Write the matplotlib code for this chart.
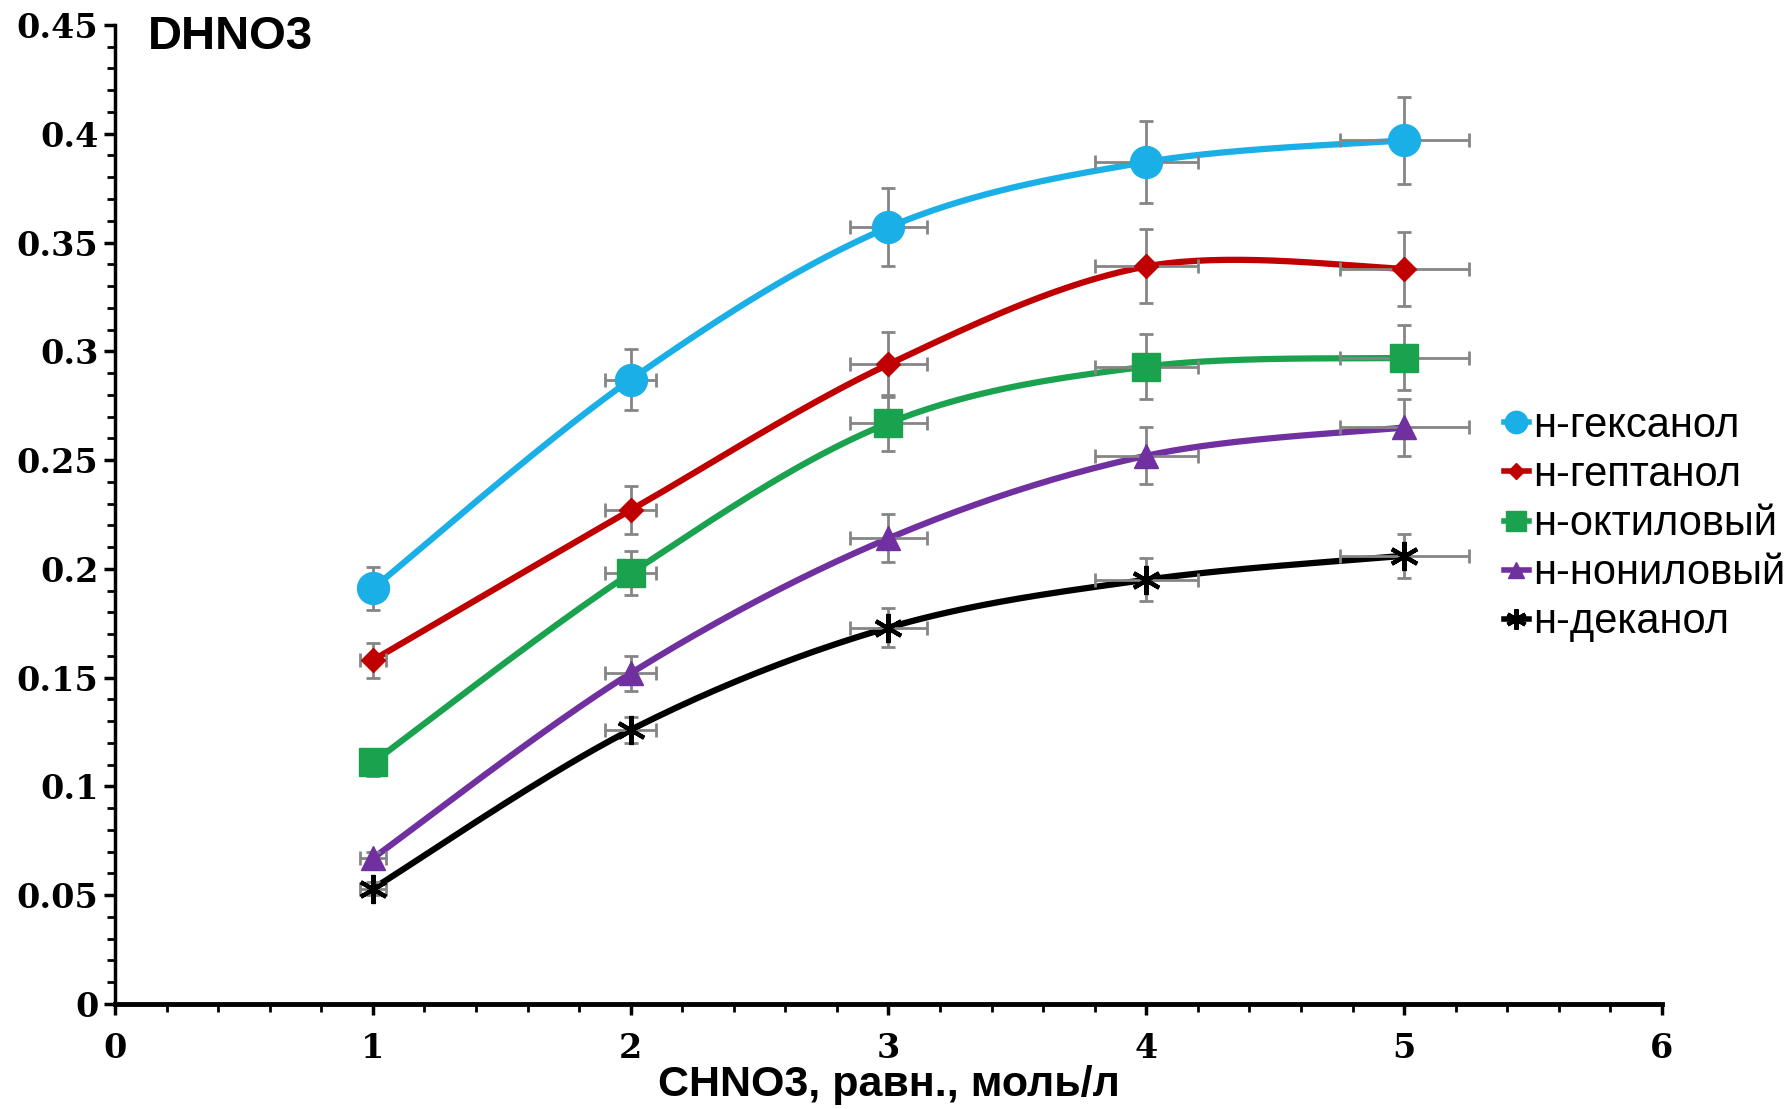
import numpy as np
import matplotlib
matplotlib.use('Agg')
import matplotlib.pyplot as plt
from matplotlib.ticker import MultipleLocator

# данные
x = [1, 2, 3, 4, 5]
hexanol = [0.191, 0.287, 0.357, 0.387, 0.397]
heptanol = [0.158, 0.227, 0.294, 0.339, 0.338]
octyl = [0.111, 0.198, 0.267, 0.293, 0.297]
nonyl = [0.067, 0.152, 0.214, 0.252, 0.265]
decanol = [0.053, 0.126, 0.173, 0.195, 0.206]
xerr = [0.05, 0.1, 0.15, 0.2, 0.25]
yerr_hexanol = [0.010, 0.014, 0.018, 0.019, 0.020]
yerr_heptanol = [0.008, 0.011, 0.015, 0.017, 0.017]
yerr_octyl = [0.006, 0.010, 0.013, 0.015, 0.015]
yerr_nonyl = [0.003, 0.008, 0.011, 0.013, 0.013]
yerr_decanol = [0.003, 0.006, 0.009, 0.010, 0.010]
labels = ['н-гексанол', 'н-гептанол', 'н-октиловый', 'н-нониловый', 'н-деканол']
yticks = [0, 0.05, 0.1, 0.15, 0.2, 0.25, 0.3, 0.35, 0.4, 0.45]
ytick_labels = ['0', '0.05', '0.1', '0.15', '0.2', '0.25', '0.3', '0.35', '0.4', '0.45']

series = [hexanol, heptanol, octyl, nonyl, decanol]
yerrs = [yerr_hexanol, yerr_heptanol, yerr_octyl, yerr_nonyl, yerr_decanol]
colors = ['#1AAFE6', '#C00000', '#1AA24F', '#7030A0', '#000000']
markers = ['o', 'D', 's', '^', (6, 2, 0)]
msizes = [23, 12, 20, 17, 21]


def smooth(xs, ys, n=40, sx=1/6, sy=1/0.45):
    # сглаживание как в Excel (Catmull-Rom)
    px = np.array(xs) * sx
    py = np.array(ys) * sy
    P = np.column_stack([px, py])
    P = np.vstack([P[0], P, P[-1]])
    out = []
    for i in range(1, len(P) - 2):
        p0, p1, p2, p3 = P[i - 1], P[i], P[i + 1], P[i + 2]
        t = np.linspace(0, 1, n)[:, None]
        c1 = p1 + (p2 - p0) / 6
        c2 = p2 - (p3 - p1) / 6
        b = (1 - t) ** 3 * p1 + 3 * (1 - t) ** 2 * t * c1 + 3 * (1 - t) * t ** 2 * c2 + t ** 3 * p2
        out.append(b)
    out = np.vstack(out)
    return out[:, 0] / sx, out[:, 1] / sy


fig = plt.figure(figsize=(17.87, 11.09), dpi=100)
ax = fig.add_axes([0.0644, 0.0947, 0.8656, 0.8828])

for ys, ye, c, m, ms, lab in zip(series, yerrs, colors, markers, msizes, labels):
    sx_, sy_ = smooth(x, ys)
    ax.plot(sx_, sy_, color=c, lw=4.5, zorder=2, solid_capstyle='round')
    ax.errorbar(x, ys, xerr=xerr, yerr=ye, fmt='none', ecolor='#858585',
                elinewidth=2, capsize=5, capthick=2, zorder=3)
    mew = 3 if m == (6, 2, 0) else 1
    ax.plot(x, ys, linestyle='none', marker=m, markersize=ms, color=c,
            markeredgecolor=c, markeredgewidth=mew, zorder=4)
    ax.plot([], [], color=c, lw=4, marker=m, markersize=ms * 0.7,
            markeredgewidth=mew, label=lab)

ax.set_xlim(0, 6)
ax.set_ylim(0, 0.45)
ax.set_yticks(yticks)
ax.set_yticklabels(ytick_labels)
ax.xaxis.set_minor_locator(MultipleLocator(0.2))
ax.yaxis.set_minor_locator(MultipleLocator(0.01))
ax.spines['top'].set_visible(False)
ax.spines['right'].set_visible(False)
ax.spines['left'].set_linewidth(2.5)
ax.spines['bottom'].set_linewidth(3.5)
ax.tick_params(which='major', direction='out', length=8, width=2.5)
ax.tick_params(which='minor', direction='out', length=6, width=2)
for t in ax.get_xticklabels() + ax.get_yticklabels():
    t.set_fontfamily('DejaVu Serif')
    t.set_fontweight('bold')
    t.set_fontsize(24)
ax.tick_params(axis='x', pad=12)
ax.tick_params(axis='y', pad=4)

ax.set_xlabel('CHNO3, равн., моль/л', fontsize=31, fontweight='bold',
              family='Liberation Sans', labelpad=0)
ax.text(0.021, 1.01, 'DHNO3', transform=ax.transAxes, fontsize=34,
        fontweight='bold', family='Liberation Sans', va='top')

ax.legend(loc='upper left', bbox_to_anchor=(0.887, 0.628), frameon=False,
          prop={'family': 'Liberation Sans', 'size': 30},
          handlelength=0.6, handletextpad=0.1, labelspacing=0.22,
          borderaxespad=0)

plt.savefig('out.png', dpi=100)
